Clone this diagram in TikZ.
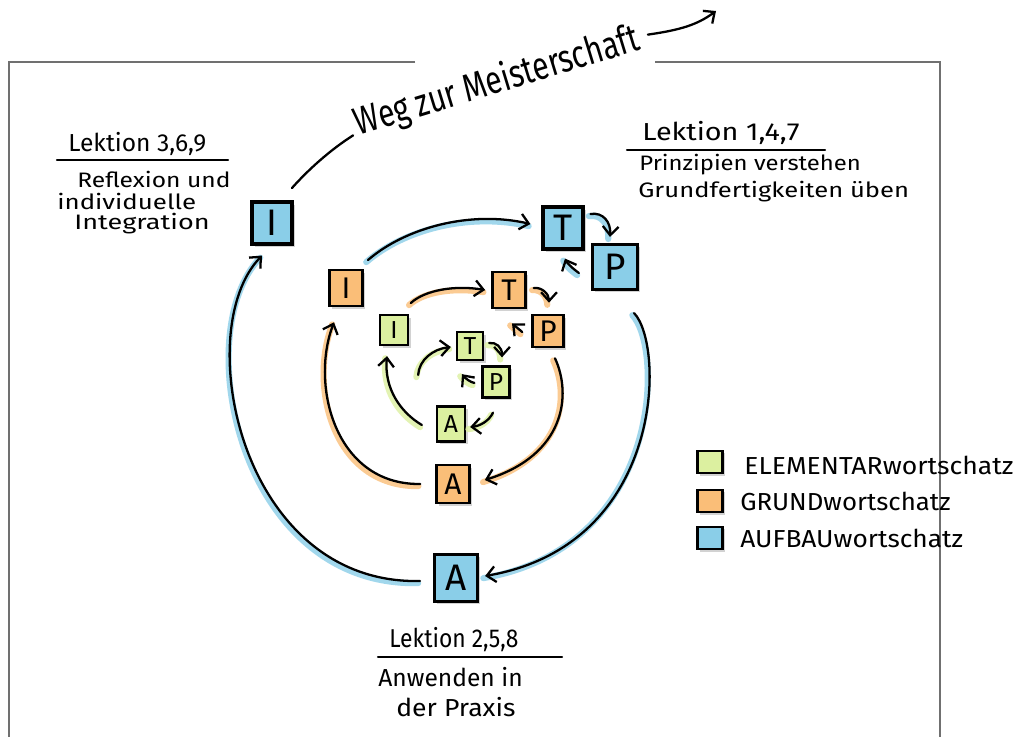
\documentclass[tikz,border=0pt]{standalone}
\usepackage{fontspec}
\setmainfont{Fira Sans}
\usetikzlibrary{arrows.meta,calc,shadows}
\definecolor{cB}{HTML}{8ACEE8}
\definecolor{cO}{HTML}{FABE78}
\definecolor{cG}{HTML}{DCF0A0}
\definecolor{frameGray}{HTML}{707070}
\newcommand\hsc[3]{\scalebox{#1}[#2]{#3}}
\tikzset{
  box/.style={draw=black, line width=1.5pt, inner sep=0pt,
    drop shadow={shadow xshift=1.5pt, shadow yshift=-1.5pt, opacity=.35, fill=gray}},
  bbox/.style={box, fill=cB, minimum width=0.8cm, minimum height=0.84cm,
    font=\fontsize{21}{21}\selectfont, line width=1.8pt},
  obox/.style={box, fill=cO, minimum width=0.66cm, minimum height=0.72cm,
    font=\fontsize{17}{17}\selectfont},
  gbox/.style={box, fill=cG, minimum width=0.56cm, minimum height=0.6cm,
    font=\fontsize{14}{14}\selectfont, line width=1.3pt},
  lbox/.style={box, minimum width=0.5cm, minimum height=0.45cm, line width=1.3pt},
  lbl/.style={anchor=west, inner sep=0pt, font=\fontsize{14}{16}\selectfont},
  arr/.style={draw=black, line width=1.3pt, line cap=round,
    -{Straight Barb[length=5pt,width=9pt,line width=1.3pt]}},
  uline/.style={draw=black, line width=1.2pt, line cap=round},
  frame/.style={draw=frameGray, line width=1.5pt},
}
\newcommand\glowconn[2]{%
  \draw[#1, line width=3.5pt, opacity=.8, line cap=round,
    transform canvas={shift={(-1pt,-1.2pt)}}] #2;
  \draw[arr] #2;}
\begin{document}
\begin{tikzpicture}[x=0.02cm, y=-0.02cm]
\useasboundingbox (0,0) rectangle (1021,737);
\fill[white] (0,0) rectangle (1021,737);

% frame
\draw[frame] (415,62) -- (9,62) -- (9,737);
\draw[frame] (655,62) -- (940,62) -- (940,737);

% boxes
\node[bbox] (bI) at (272,223) {I};
\node[bbox] (bT) at (563,228) {T};
\node[bbox, minimum width=0.9cm, minimum height=0.9cm] (bP) at (615,267) {P};
\node[bbox, minimum width=0.86cm, minimum height=0.94cm] (bA) at (456,578) {A};
\node[obox] (oI) at (346,288) {I};
\node[obox] (oT) at (509,290) {T};
\node[obox, minimum width=0.62cm, minimum height=0.64cm] (oP) at (548,331) {P};
\node[obox, minimum height=0.76cm] (oA) at (453,484) {A};
\node[gbox] (gI) at (394,330) {I};
\node[gbox, minimum width=0.52cm, minimum height=0.56cm] (gT) at (470,346) {T};
\node[gbox, minimum width=0.54cm, minimum height=0.62cm] (gP) at (496,382) {P};
\node[gbox, minimum height=0.7cm] (gA) at (451,424) {A};

% outer cycle
\coordinate (c1) at (368,260);
\glowconn{cB}{(c1) .. controls (405,228) and (470,210) .. ($(bT.west)+(-11,-4)$)}
\glowconn{cB}{($(bT.east)+(6,-14)$) .. controls (603,212) and (611,222) .. ($(bP.north)+(-5,-6)$)}
\glowconn{cB}{($(bP.west)+(-12,6)$) .. controls (572,268) and (567,263) .. ($(bT.south)+(2,8)$)}
\glowconn{cB}{($(bP.south east)+(-5,22)$) .. controls (665,345) and (665,545) .. ($(bA.east)+(6,-2)$)}
\glowconn{cB}{($(bA.west)+(-13,3)$) .. controls (240,585) and (190,330) .. ($(bI.south)+(-10,10)$)}

% middle cycle
\glowconn{cO}{($(oI.east)+(47,15)$) .. controls (425,290) and (455,285) .. ($(oT.west)+(-6,0)$)}
\glowconn{cO}{($(oT.east)+(7,-2)$) .. controls (542,287) and (549,294) .. ($(oP.north)+(1,-11)$)}
\glowconn{cO}{($(oP.west)+(-9,1)$) .. controls (520,330) and (515,326) .. ($(oT.south)+(3,14)$)}
\glowconn{cO}{($(oP.south)+(7,10)$) .. controls (572,395) and (565,455) .. ($(oA.east)+(14,-4)$)}
\glowconn{cO}{($(oA.west)+(-15,0)$) .. controls (335,485) and (310,385) .. ($(oI.south)+(-12,15)$)}

% inner cycle
\glowconn{cG}{($(gI.east)+(9,45)$) .. controls (419,360) and (433,349) .. ($(gT.west)+(-5,1)$)}
\glowconn{cG}{($(gT.east)+(5,-3)$) .. controls (496,342) and (502,347) .. ($(gP.north)+(6,-8)$)}
\glowconn{cG}{($(gP.west)+(-7,1)$) .. controls (470,382) and (465,378) .. ($(gT.south)+(-8,13)$)}
\glowconn{cG}{($(gP.south)+(-3,14)$) .. controls (489,421) and (480,426) .. ($(gA.east)+(4,3)$)}
\glowconn{cG}{($(gA.west)+(-14,1)$) .. controls (400,412) and (384,388) .. ($(gI.south)+(-7,10)$)}

% title
\node[rotate=17, inner sep=0pt, font=\fontsize{17}{17}\selectfont] (title) at (497,82) {\hsc{1}{1.3}{Weg zur Meisterschaft}};
\coordinate (tl) at (292,188);
\coordinate (tr) at (716,11);
\draw[uline, line width=1.3pt] (tl) .. controls (308,170) and (330,150) .. ($(title.west)+(-2,10)$);
\draw[arr] ($(title.east)+(9,-4)$) .. controls (680,30) and (697,25) .. (tr);

% labels top-left
\node[lbl] (l369) at (68,144) {Lektion 3,6,9};
\draw[uline] (57,160) coordinate (u1a) -- (228,160) coordinate (u1b);
\node[lbl] (l369a) at (77,179) {\hsc{1}{.85}{Reflexion und}};
\node[lbl] (l369b) at (57,201) {\hsc{1.05}{.85}{individuelle}};
\node[lbl] (l369c) at (74,224) {\hsc{1.1}{.85}{Integration}};

% labels top-right
\node[lbl] (l147) at (642,133) {\hsc{1.17}{1}{Lektion 1,4,7}};
\draw[uline] (627,150) coordinate (u2a) -- (825,150) coordinate (u2b);
\node[lbl] (l147a) at (639,165) {\hsc{.97}{.85}{Prinzipien verstehen}};
\node[lbl] (l147b) at (638,192) {\hsc{1.04}{.85}{Grundfertigkeiten üben}};

% labels bottom
\node[lbl] (l258) at (389,640) {\hsc{.93}{1.05}{Lektion 2,5,8}};
\draw[uline] (378,657) coordinate (u3a) -- (562,657) coordinate (u3b);
\node[lbl] (l258a) at (378,677) {Anwenden in};
\node[lbl] (l258b) at (396,707) {\hsc{1.08}{1}{der Praxis}};

% legend
\node[lbox, fill=cG] (lg) at (710,462) {};
\node[lbox, fill=cO] (lo) at (710,501) {};
\node[lbox, fill=cB] (lb) at (710,538) {};
\node[lbl] (tg) at (744,465) {\hsc{1.08}{1}{ELEMENTARwortschatz}};
\node[lbl] (to) at (740,501) {\hsc{1.05}{1}{GRUNDwortschatz}};
\node[lbl] (tb) at (740,538) {\hsc{1.07}{1}{AUFBAUwortschatz}};
\end{tikzpicture}
\end{document}
